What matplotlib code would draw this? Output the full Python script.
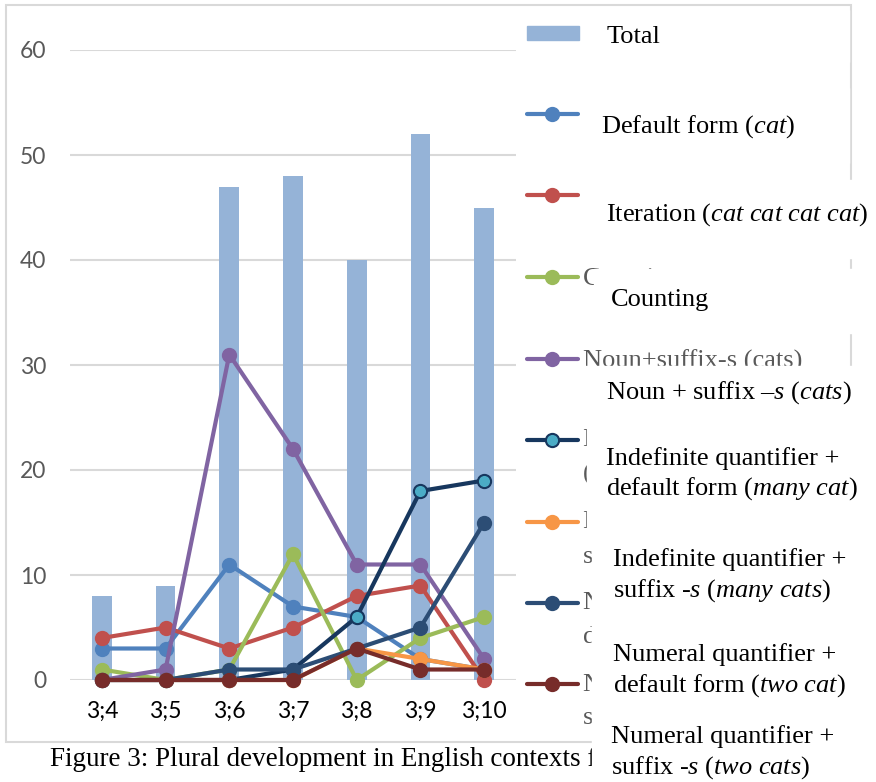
import matplotlib.pyplot as plt
from matplotlib.lines import Line2D
from matplotlib.patches import Rectangle

plt.rcParams['mathtext.fontset'] = 'custom'
plt.rcParams['mathtext.rm'] = 'Liberation Serif'
plt.rcParams['mathtext.it'] = 'Liberation Serif:italic'

ages = ['3;4', '3;5', '3;6', '3;7', '3;8', '3;9', '3;10']
total = [8, 9, 47, 48, 40, 52, 45]
default_form = [3, 3, 11, 7, 6, 2, 1]
iteration = [4, 5, 3, 5, 8, 9, 0]
counting = [1, 0, 1, 12, 0, 4, 6]
noun_suffix = [0, 1, 31, 22, 11, 11, 2]
indef_default = [0, 0, 0, 1, 6, 18, 19]
indef_suffix = [0, 0, 0, 0, 3, 2, 1]
num_default = [0, 0, 1, 1, 3, 5, 15]
num_suffix = [0, 0, 0, 0, 3, 1, 1]

W, H = 876, 782


def fx(px):
    return px / W


def fy(py):
    return 1 - py / H


fig = plt.figure(figsize=(W / 100, H / 100), dpi=100)
ax = fig.add_axes([fx(70), fy(680), fx(516) - fx(70), fy(50) - fy(680)])

x = range(len(ages))
ax.bar(x, total, width=0.31, color='#95B3D7', zorder=2)

series = [
    (default_form, '#4F81BD', '#4F81BD'),
    (iteration, '#C0504D', '#C0504D'),
    (counting, '#9BBB59', '#9BBB59'),
    (noun_suffix, '#8064A2', '#8064A2'),
    (indef_default, '#17375E', '#4BACC6'),
    (indef_suffix, '#F79646', '#F79646'),
    (num_default, '#2C4D75', '#2C4D75'),
    (num_suffix, '#772C2A', '#772C2A'),
]
for vals, col, face in series:
    ax.plot(x, vals, color=col, lw=3, marker='o', markersize=9.5,
            markerfacecolor=face, markeredgecolor=col, markeredgewidth=1.5,
            clip_on=False, zorder=3, solid_capstyle='round')

ax.set_xlim(-0.5, len(ages) - 0.5)
ax.set_ylim(0, 60)
ax.set_yticks(range(0, 61, 10))
ax.set_xticks(list(x))
ax.set_xticklabels(ages)
ax.grid(axis='y', color='#D9D9D9', lw=1.5, zorder=1)
for s in ax.spines.values():
    s.set_visible(False)
ax.tick_params(axis='y', length=0, pad=17, labelsize=16.5, labelcolor='#595959')
ax.tick_params(axis='x', length=0, pad=15, labelsize=16.5, labelcolor='black')
for lab in ax.get_xticklabels() + ax.get_yticklabels():
    lab.set_family('Lato')

# chart frame
fig.add_artist(Rectangle((fx(6), fy(742)), fx(851) - fx(6), fy(5) - fy(742),
                         transform=fig.transFigure, fill=False,
                         edgecolor='#D9D9D9', lw=1.5, zorder=0))

# original legend handles
handle_y = [114, 195, 277, 359, 440, 522, 603, 684]
fig.add_artist(Rectangle((fx(527), fy(40)), fx(579) - fx(527), fy(26) - fy(40),
                         transform=fig.transFigure, color='#95B3D7'))
for (vals, col, face), hy in zip(series, handle_y):
    fig.add_artist(Line2D([fx(527), fx(552), fx(578)], [fy(hy)] * 3,
                          transform=fig.transFigure, color=col, lw=3,
                          marker='o', markevery=[1], markersize=9.5,
                          markerfacecolor=face, markeredgecolor=col,
                          markeredgewidth=1.5, solid_capstyle='round'))

# original legend text (mostly hidden)
old_labels = [
    ('Counting', 279), ('Noun+suffix-s (cats)', 361),
    ('Indefinite quantifier +', 440), ('(many cat)', 474),
    ('Indefinite quantifier +', 522), ('suffix -s (many cats)', 557),
    ('Numeral quantifier +', 603), ('default form (two cat)', 637),
    ('Numeral quantifier +', 685), ('suffix -s (two cats)', 718),
]
for t, ty in old_labels:
    fig.text(fx(583), fy(ty), t, family='Liberation Serif', fontsize=19,
             color='#595959', va='center', ha='left')

# caption
fig.text(fx(50), fy(759), 'Figure 3: Plural development in English contexts for',
         family='Liberation Serif', fontsize=19.5, color='black',
         va='center', ha='left')

# pasted labels on white boxes
boxes = [
    (586, 10, 849, 62), (586, 88, 849, 163), (586, 180, 876, 258),
    (594, 269, 876, 333), (582, 366, 876, 420), (587, 420, 876, 532),
    (592, 532, 876, 615), (592, 615, 876, 700), (592, 700, 876, 782),
]
for x0, y0, x1, y1 in boxes:
    fig.add_artist(Rectangle((fx(x0), fy(y1)), fx(x1) - fx(x0), fy(y0) - fy(y1),
                             transform=fig.transFigure, color='white', zorder=5))

new_labels = [
    ('Total', 607, 37),
    (r'Default form ($\mathit{cat}$)', 601, 127),
    (r'Iteration ($\mathit{cat\ cat\ cat\ cat}$)', 606, 215),
    ('Counting', 611, 300),
    (r'Noun + suffix –$\mathit{s}$ ($\mathit{cats}$)', 606, 393),
    ('Indefinite quantifier +', 606, 459),
    (r'default form ($\mathit{many\ cat}$)', 606, 489),
    ('Indefinite quantifier +', 613, 560),
    (r'suffix -$\mathit{s}$ ($\mathit{many\ cats}$)', 613, 591),
    ('Numeral quantifier +', 613, 655),
    (r'default form ($\mathit{two\ cat}$)', 613, 686),
    ('Numeral quantifier +', 611, 737),
    (r'suffix -$\mathit{s}$ ($\mathit{two\ cats}$)', 611, 768),
]
for t, tx, ty in new_labels:
    fig.text(fx(tx), fy(ty), t, family='Liberation Serif', fontsize=19,
             color='black', va='center', ha='left', zorder=6)

fig.savefig('out.png', dpi=100)
